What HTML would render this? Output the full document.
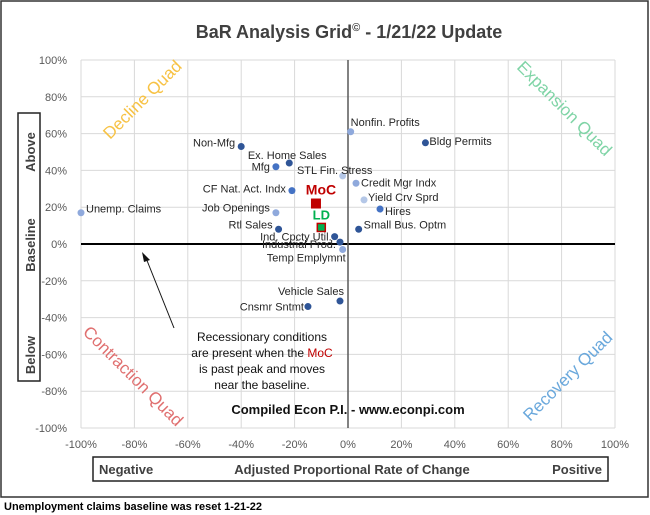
<!DOCTYPE html>
<html><head><meta charset="utf-8"><style>
body{margin:0;background:#fff;font-family:"Liberation Sans",sans-serif}
#wrap{position:relative;width:650px;height:515px;overflow:hidden}
</style></head><body>
<div id="wrap">
<svg id="svg" width="650" height="515" xmlns="http://www.w3.org/2000/svg">
<rect x="1" y="1" width="647" height="496" fill="#fff" stroke="#333" stroke-width="1.5"/>
<text x="349" y="38" text-anchor="middle" font-size="18" font-weight="bold" fill="#404040">BaR Analysis Grid<tspan font-size="11" dy="-7">©</tspan><tspan dy="7"> - 1/21/22 Update</tspan></text>
<g id="grid"></g>
<g id="ticks"></g>
<text x="110" y="140" font-size="17" fill="#f7c244" transform="rotate(-45 110 140)">Decline Quad</text>
<text x="516" y="68" font-size="17" fill="#7fd4a6" transform="rotate(45 516 68)">Expansion Quad</text>
<text x="82" y="333" font-size="17" fill="#e07070" transform="rotate(45 82 333)">Contraction Quad</text>
<text x="530" y="422" font-size="17" fill="#6aa8dc" transform="rotate(-45 530 422)">Recovery Quad</text>
<g id="marks"></g>
<rect x="18" y="113" width="22" height="268" fill="none" stroke="#222" stroke-width="1.5"/>
<text transform="translate(35 152) rotate(-90)" text-anchor="middle" font-size="13" font-weight="bold" fill="#404040">Above</text>
<text transform="translate(35 245) rotate(-90)" text-anchor="middle" font-size="13" font-weight="bold" fill="#404040">Baseline</text>
<text transform="translate(35 355) rotate(-90)" text-anchor="middle" font-size="13" font-weight="bold" fill="#404040">Below</text>
<rect x="93" y="457" width="515" height="24" fill="none" stroke="#222" stroke-width="1.5"/>
<text x="99" y="474" font-size="13" font-weight="bold" fill="#404040">Negative</text>
<text x="352" y="474" text-anchor="middle" font-size="13" font-weight="bold" fill="#404040">Adjusted Proportional Rate of Change</text>
<text x="602" y="474" text-anchor="end" font-size="13" font-weight="bold" fill="#404040">Positive</text>
<text x="348" y="414" text-anchor="middle" font-size="13" font-weight="bold" fill="#111">Compiled Econ P.I. - www.econpi.com</text>
<g font-size="12" fill="#111" text-anchor="middle">
<text x="262" y="341">Recessionary conditions</text>
<text x="262" y="357">are present when the <tspan fill="#c00000">MoC</tspan></text>
<text x="262" y="373">is past peak and moves</text>
<text x="262" y="389">near the baseline.</text>
</g>
<line x1="174" y1="328" x2="146" y2="258" stroke="#111" stroke-width="1"/>
<path d="M142 252 L150 260 L144 262 Z" fill="#111"/>
<text x="4" y="510" font-size="11" font-weight="bold" fill="#000">Unemployment claims baseline was reset 1-21-22</text>
</svg>
</div>
<script>
const names=["Unemp. Claims","Non-Mfg","Ex. Home Sales","Mfg","STL Fin. Stress","Nonfin. Profits","Bldg Permits","CF Nat. Act. Indx","Credit Mgr Indx","Yield Crv Sprd","Hires","Job Openings","Rtl Sales","Small Bus. Optm","Ind. Cpcty Util.","Industrial Prod.","Temp Emplymnt","Vehicle Sales","Cnsmr Sntmt"];
const xVals=[-100,-40,-22,-27,-2,1,29,-21,3,6,12,-27,-26,4,-5,-3,-2,-3,-15];
const yVals=[17,53,44,42,37,61,55,29,33,24,19,17,8,8,4,1,-3,-31,-34];
const colors=["#8fa9dc","#2f5597","#2f5597","#4472c4","#b4c7e7","#8fa9dc","#2f5597","#4472c4","#8fa9dc","#b4c7e7","#4472c4","#8fa9dc","#2f5597","#2f5597","#2f5597","#2f5597","#8fa9dc","#2f5597","#2f5597"];
const lblDx=[5,-6,-2,-6,-8,0,4,-6,5,4,5,-6,-6,5,-3,-4,3,4,-4];
const lblDy=[-4,-4,-8,0,-6,-10,-2,-2,-1,-3,2,-5,-5,-5,0,2,8,-10,0];
const lblAnchor=["start","end","middle","end","middle","start","start","end","start","start","start","end","end","start","end","end","end","end","end"];
const ticksX=[-100,-80,-60,-40,-20,0,20,40,60,80,100];
const ticksY=[100,80,60,40,20,0,-20,-40,-60,-80,-100];
const mocXY=[-12,22];
const ldXY=[-10,9];
const X0=81,X1=615,Y0=60,Y1=428;
const sx=v=>X0+(v+100)/200*(X1-X0);
const sy=v=>Y1-(v+100)/200*(Y1-Y0);
const NS="http://www.w3.org/2000/svg";
function mk(t,a,p){const e=document.createElementNS(NS,t);for(const k in a)e.setAttribute(k,a[k]);p.appendChild(e);return e;}
const grid=document.getElementById('grid'),ticks=document.getElementById('ticks'),marks=document.getElementById('marks');
ticksX.forEach(v=>{const l=mk('line',{x1:sx(v),x2:sx(v),y1:Y0,y2:Y1,stroke:'#d9d9d9'},grid);


const t=mk('text',{x:sx(v),y:Y1+20,'text-anchor':'middle','font-size':11,fill:'#595959'},ticks);t.textContent=v+'%';

});
ticksY.forEach(v=>{const l=mk('line',{x1:X0,x2:X1,y1:sy(v),y2:sy(v),stroke:'#d9d9d9'},grid);


const t=mk('text',{x:X0-14,y:sy(v)+4,'text-anchor':'end','font-size':11,fill:'#595959'},ticks);t.textContent=v+'%';

});
const za=mk('line',{x1:X0,x2:X1,y1:sy(0),y2:sy(0),stroke:'#000','stroke-width':2},grid);


const zb=mk('line',{x1:sx(0),x2:sx(0),y1:Y0,y2:Y1,stroke:'#595959','stroke-width':1.5},grid);


names.forEach((n,i)=>{const cx=sx(xVals[i]),cy=sy(yVals[i]);
const c=mk('circle',{cx:cx,cy:cy,r:3.5,fill:colors[i]},marks);


const t=mk('text',{x:cx+lblDx[i],y:cy+lblDy[i]+4,'text-anchor':lblAnchor[i],'font-size':11,fill:'#262626'},marks);t.textContent=n;

});
const m=mk('rect',{x:sx(mocXY[0])-5,y:sy(mocXY[1])-5,width:10,height:10,fill:'#c00000'},marks);


const mt=mk('text',{x:sx(mocXY[0])+5,y:sy(mocXY[1])-9,'text-anchor':'middle','font-size':14,'font-weight':'bold',fill:'#c00000'},marks);mt.textContent='MoC';


const d=mk('rect',{x:sx(ldXY[0])-4,y:sy(ldXY[1])-4,width:8,height:8,fill:'#00b050',stroke:'#c00000','stroke-width':1.5},marks);


const dt=mk('text',{x:sx(ldXY[0]),y:sy(ldXY[1])-8,'text-anchor':'middle','font-size':13,'font-weight':'bold',fill:'#00b050'},marks);dt.textContent='LD';


</script>
</body></html>
